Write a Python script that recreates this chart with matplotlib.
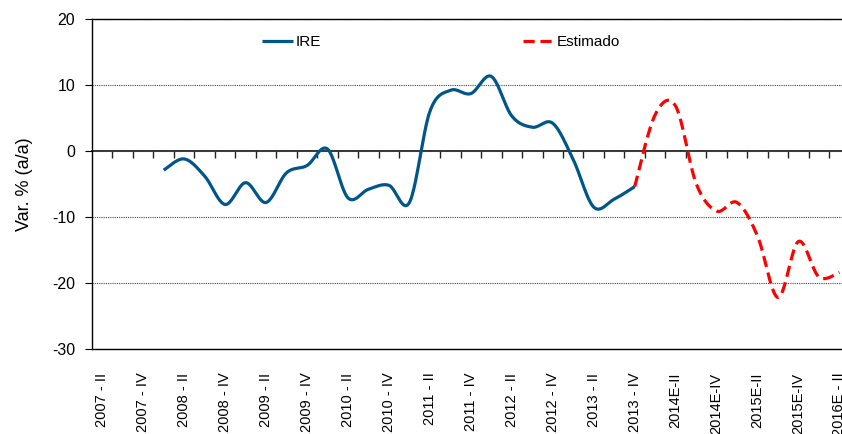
import numpy as np
import matplotlib
matplotlib.use("Agg")
import matplotlib.pyplot as plt

plt.rcParams['font.family'] = ['Liberation Sans', 'DejaVu Sans']
plt.rcParams['axes.unicode_minus'] = False

# ---- data ----
# quarter index 0 = 2007-II ... 36 = 2016E-II
tick_labels = ['2007 - II', '2007 - IV', '2008 - II', '2008 - IV', '2009 - II',
               '2009 - IV', '2010 - II', '2010 - IV', '2011 - II', '2011 - IV',
               '2012 - II', '2012 - IV', '2013 - II', '2013 - IV', '2014E-II',
               '2014E-IV', '2015E-II', '2015E-IV', '2016E - II']
n_quarters = 37

ire_start = 3   # 2008-I
ire_values = [-2.9, -1.2, -3.8, -8.1, -4.8, -7.8, -3.3, -2.2, 0.3, -7.1,
              -5.8, -5.2, -7.8, 6.0, 9.2, 8.7, 11.3, 5.3, 3.6, 4.2,
              -1.3, -8.5, -7.3, -5.4]

est_start = 26  # 2013-IV
est_values = [-5.4, 5.5, 6.8, -4.9, -9.1, -7.8, -12.9, -22.2, -13.7, -19.1, -18.4]


def smooth(x, y, n=24):
    # Excel-like smoothed line (Catmull-Rom as cubic Bezier)
    x = np.asarray(x, float)
    y = np.asarray(y, float)
    px = np.r_[x[0], x, x[-1]]
    py = np.r_[y[0], y, y[-1]]
    t = np.linspace(0, 1, n)[:, None]
    xs, ys = [], []
    for i in range(1, len(px) - 2):
        p0, p1, p2, p3 = (np.array([px[j], py[j]]) for j in (i - 1, i, i + 1, i + 2))
        c1 = p1 + (p2 - p0) / 6
        c2 = p2 - (p3 - p1) / 6
        b = ((1 - t) ** 3) * p1 + 3 * ((1 - t) ** 2) * t * c1 + 3 * (1 - t) * t ** 2 * c2 + t ** 3 * p2
        xs.append(b[:, 0])
        ys.append(b[:, 1])
    return np.concatenate(xs), np.concatenate(ys)


fig = plt.figure(figsize=(8.42, 4.34), dpi=100)
ax = fig.add_axes([92 / 842, 1 - 349 / 434, (849.7 - 92) / 842, 330 / 434])

x_ire = np.arange(ire_start, ire_start + len(ire_values))
x_est = np.arange(est_start, est_start + len(est_values))

sx, sy = smooth(x_est, est_values)
ax.plot(sx, sy, color='#FF0000', lw=2.3, dashes=(3.5, 1.8), label='Estimado', zorder=3)
sx, sy = smooth(x_ire, ire_values)
ax.plot(sx, sy, color='#005689', lw=2.3, label='IRE', zorder=4, solid_capstyle='butt')

ax.set_xlim(-0.5, n_quarters - 0.5)
ax.set_ylim(-30, 20)
ax.set_yticks([-30, -20, -10, 0, 10, 20])
ax.yaxis.grid(True, linestyle=(0, (1, 1)), color='#444444', lw=0.8)
ax.set_axisbelow(True)

ax.set_xticks(np.arange(0, n_quarters, 2))
ax.set_xticklabels(tick_labels, rotation=90, fontsize=10.5)
ax.tick_params(axis='x', length=0, pad=17)
ax.tick_params(axis='y', direction='out', length=5, labelsize=11.5, pad=7)

for s in ['top', 'left', 'bottom']:
    ax.spines[s].set_color('black')
    ax.spines[s].set_linewidth(1.0)
ax.spines['right'].set_visible(False)

ax.set_ylabel('Var. % (a/a)', fontsize=13, labelpad=14)

# zero line with category tick marks
sec = ax.secondary_xaxis(0.6)
sec.set_alignment('bottom')
sec.set_xticks(np.arange(0.5, n_quarters - 0.5, 1))
sec.set_xticklabels([])
sec.tick_params(direction='out', length=5, color='#222222', width=1)
sec.spines['bottom'].set_color('#222222')
sec.spines['bottom'].set_linewidth(1.3)

h, l = ax.get_legend_handles_labels()
ax.legend(h[::-1], l[::-1], loc='center left', bbox_to_anchor=(0.2244, 0.930),
          ncol=2, frameon=False, handlelength=2.0, handletextpad=0.2,
          columnspacing=13.2, borderpad=0, borderaxespad=0, fontsize=11)

fig.savefig('out.png', dpi=100)
